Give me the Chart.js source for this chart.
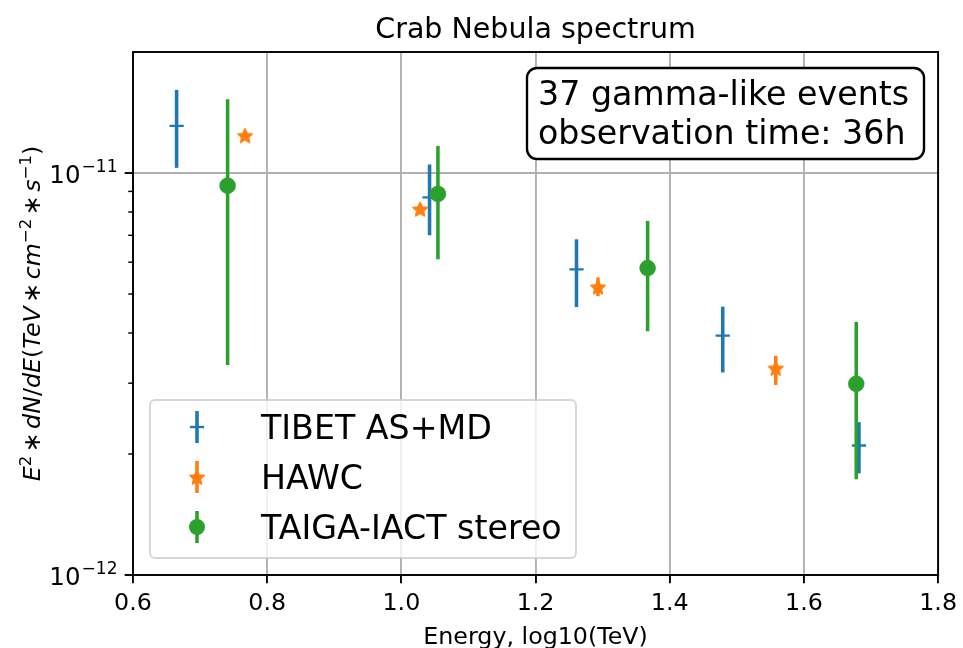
<!DOCTYPE html>
<html>
<head>
<meta charset="utf-8">
<script src="https://cdn.jsdelivr.net/npm/chart.js@4/dist/chart.umd.min.js"></script>
<style>
  html, body { margin: 0; padding: 0; background: #fff; }
  #wrap { width: 963px; height: 648px; }
</style>
</head>
<body>
<div id="wrap"><canvas id="spectrum" width="963" height="648"></canvas></div>
<script>
// ---------------------------------------------------------------------------
// DATA
// ---------------------------------------------------------------------------

const TIBET_X = [0.665, 1.042, 1.261, 1.479, 1.682]
const TIBET_Y = [1.31e-11, 8.7e-12, 5.76e-12, 3.94e-12, 2.10e-12]
const TIBET_LO = [1.03e-11, 7.0e-12, 4.64e-12, 3.19e-12, 1.79e-12]
const TIBET_HI = [1.61e-11, 1.05e-11, 6.84e-12, 4.65e-12, 2.40e-12]

const HAWC_X = [0.767, 1.028, 1.293, 1.558]
const HAWC_Y = [1.24e-11, 8.14e-12, 5.21e-12, 3.27e-12]
const HAWC_LO = [1.21e-11, 7.95e-12, 4.94e-12, 2.97e-12]
const HAWC_HI = [1.27e-11, 8.35e-12, 5.50e-12, 3.51e-12]

const TAIGA_X = [0.741, 1.0545, 1.367, 1.678]
const TAIGA_Y = [9.30e-12, 8.87e-12, 5.80e-12, 2.99e-12]
const TAIGA_LO = [3.33e-12, 6.10e-12, 4.04e-12, 1.73e-12]
const TAIGA_HI = [1.525e-11, 1.167e-11, 7.60e-12, 4.26e-12]

const SERIES_LABELS = ['TIBET AS+MD', 'HAWC', 'TAIGA-IACT stereo']
const SERIES_COLORS = ['#1f77b4', '#ff7f0e', '#2ca02c']

const X_MIN = 0.6
const X_MAX = 1.8
const X_STEP = 0.2
const Y_MIN = 1e-12
const Y_MAX = 2e-11
const Y_MAJOR = [1e-12, 1e-11]
const Y_MAJOR_EXP = ['\u221212', '\u221211']
const Y_MINOR = [2e-12, 3e-12, 4e-12, 5e-12, 6e-12, 7e-12, 8e-12, 9e-12]

const TITLE = 'Crab Nebula spectrum'
const X_TITLE = 'Energy, log10(TeV)'
const NOTE_LINES = ['37 gamma-like events', 'observation time: 36h']

// ---------------------------------------------------------------------------
// STYLE
// ---------------------------------------------------------------------------

const FONT = "'DejaVu Sans', sans-serif"
const PT = 2.375 // px per point in the reference
const GRID = '#b0b0b0'

function toPoints(xs, ys) {
    return xs.map((x, i) => ({ x, y: ys[i] }))
}

function makeStar(color, r) {
    const size = Math.ceil(r * 2 + 4)
    const c = document.createElement('canvas')
    c.width = c.height = size
    const g = c.getContext('2d')
    g.translate(size / 2, size / 2 + 0.8)
    g.beginPath()
    for (let k = 0; k < 10; k++) {
        const rr = k % 2 ? r * 0.48 : r
        const a = -Math.PI / 2 + k * Math.PI / 5
        g.lineTo(rr * Math.cos(a), rr * Math.sin(a))
    }
    g.closePath()
    g.fillStyle = color
    g.fill()
    g.lineJoin = 'round'
    g.lineWidth = 1.2
    g.strokeStyle = color
    g.stroke()
    return c
}

const STAR = makeStar(SERIES_COLORS[1], 7.8)

// ---------------------------------------------------------------------------
// PLUGINS
// ---------------------------------------------------------------------------

// vertical error bars, drawn just before each dataset's markers
const errorBars = {
    id: 'errorBars',
    beforeDatasetDraw(chart, args) {
        const ds = chart.data.datasets[args.index]
        if (!ds.errLo) return
        const { x, y } = chart.scales
        const ctx = chart.ctx
        ctx.save()
        ctx.strokeStyle = ds.borderColor
        ctx.lineWidth = 1.5 * PT
        ctx.lineCap = 'butt'
        ds.data.forEach((p, i) => {
            const px = x.getPixelForValue(p.x)
            ctx.beginPath()
            ctx.moveTo(px, y.getPixelForValue(ds.errLo[i]))
            ctx.lineTo(px, y.getPixelForValue(ds.errHi[i]))
            ctx.stroke()
        })
        ctx.restore()
    },
}

function roundRect(ctx, x, y, w, h, r) {
    ctx.beginPath()
    ctx.moveTo(x + r, y)
    ctx.arcTo(x + w, y, x + w, y + h, r)
    ctx.arcTo(x + w, y + h, x, y + h, r)
    ctx.arcTo(x, y + h, x, y, r)
    ctx.arcTo(x, y, x + w, y, r)
    ctx.closePath()
}

function drawMarker(ctx, kind, color, cx, cy) {
    ctx.save()
    ctx.strokeStyle = color
    ctx.fillStyle = color
    // errorbar stub
    ctx.lineWidth = 1.5 * PT
    ctx.beginPath()
    ctx.moveTo(cx, cy - 16)
    ctx.lineTo(cx, cy + 16)
    ctx.stroke()
    if (kind === 'cross') {
        ctx.lineWidth = PT
        ctx.beginPath()
        ctx.moveTo(cx - 7.1, cy)
        ctx.lineTo(cx + 7.1, cy)
        ctx.stroke()
    } else if (kind === 'star') {
        ctx.drawImage(STAR, cx - STAR.width / 2, cy - STAR.height / 2)
    } else {
        ctx.beginPath()
        ctx.arc(cx, cy, 8, 0, Math.PI * 2)
        ctx.fill()
    }
    ctx.restore()
}

// frame, log ticks, y label, title, annotation box and legend
const decor = {
    id: 'decor',
    afterDraw(chart) {
        const ctx = chart.ctx
        const area = chart.chartArea
        const yScale = chart.scales.y
        ctx.save()

        // frame
        ctx.strokeStyle = '#000'
        ctx.lineWidth = 0.8 * PT
        ctx.strokeRect(area.left, area.top, area.right - area.left, area.bottom - area.top)

        // y ticks
        ctx.lineWidth = 0.8 * PT
        Y_MAJOR.forEach(v => {
            const py = yScale.getPixelForValue(v)
            ctx.beginPath()
            ctx.moveTo(area.left, py)
            ctx.lineTo(area.left - 3.5 * PT, py)
            ctx.stroke()
        })
        ctx.lineWidth = 0.6 * PT
        Y_MINOR.forEach(v => {
            const py = yScale.getPixelForValue(v)
            ctx.beginPath()
            ctx.moveTo(area.left, py)
            ctx.lineTo(area.left - 2 * PT, py)
            ctx.stroke()
        })

        // y tick labels 10^n
        ctx.fillStyle = '#000'
        ctx.textBaseline = 'alphabetic'
        ctx.textAlign = 'left'
        const tickFont = 10.3 * PT
        const supFont = 7.2 * PT
        Y_MAJOR.forEach((v, i) => {
            const py = yScale.getPixelForValue(v)
            ctx.font = `${supFont}px ${FONT}`
            const wSup = ctx.measureText(Y_MAJOR_EXP[i]).width
            ctx.font = `${tickFont}px ${FONT}`
            const wBase = ctx.measureText('10').width
            const right = area.left - 6.5 * PT
            const x0 = right - wSup - wBase - 1
            ctx.fillText('10', x0, py + 9.8)
            ctx.font = `${supFont}px ${FONT}`
            ctx.fillText(Y_MAJOR_EXP[i], x0 + wBase + 1, py - 1)
        })

        // y label (mathtext-like)
        const segs = [
            { t: 'E', it: true }, { t: '2', sup: true }, { t: '\u2217', op: true },
            { t: 'dN', it: true }, { t: '/' }, { t: 'dE', it: true }, { t: '(' },
            { t: 'TeV', it: true }, { t: '\u2217', op: true }, { t: 'cm', it: true },
            { t: '\u22122', sup: true }, { t: '\u2217', op: true }, { t: 's', it: true },
            { t: '\u22121', sup: true }, { t: ')' },
        ]
        const lblSize = 10 * PT
        const fontOf = s => s.sup ? `${lblSize * 0.7}px ${FONT}`
            : s.it ? `oblique ${lblSize}px ${FONT}` : `${lblSize}px ${FONT}`
        const gap = 3.5
        let total = 0
        segs.forEach(s => {
            ctx.font = fontOf(s)
            s.w = ctx.measureText(s.t).width + (s.op ? gap * 2 : 0)
            total += s.w
        })
        ctx.save()
        ctx.translate(40, (area.top + area.bottom) / 2)
        ctx.rotate(-Math.PI / 2)
        let cx = -total / 2
        segs.forEach(s => {
            ctx.font = fontOf(s)
            const dy = s.sup ? -9.5 : 0
            ctx.fillText(s.t, cx + (s.op ? gap : 0), dy)
            cx += s.w
        })
        ctx.restore()

        // x title
        ctx.font = `${10 * PT}px ${FONT}`
        ctx.textAlign = 'center'
        ctx.fillText(X_TITLE, (area.left + area.right) / 2, 644)

        // title
        ctx.font = `${12 * PT}px ${FONT}`
        ctx.fillText(TITLE, (area.left + area.right) / 2, 38)

        // annotation box
        ctx.fillStyle = '#fff'
        roundRect(ctx, 527, 68, 397, 91, 10)
        ctx.fill()
        ctx.lineWidth = PT
        ctx.strokeStyle = '#000'
        ctx.stroke()
        ctx.fillStyle = '#000'
        ctx.textAlign = 'left'
        ctx.font = `${14 * PT}px ${FONT}`
        ctx.fillText(NOTE_LINES[0], 538, 105)
        ctx.fillText(NOTE_LINES[1], 538, 143.5)

        // legend
        roundRect(ctx, 150, 400, 426, 158, 5)
        ctx.fillStyle = 'rgba(255,255,255,0.8)'
        ctx.fill()
        ctx.lineWidth = 0.8 * PT
        ctx.strokeStyle = 'rgba(204,204,204,0.8)'
        ctx.stroke()
        const kinds = ['cross', 'star', 'circle']
        SERIES_LABELS.forEach((label, i) => {
            const cy = 427 + i * 50
            drawMarker(ctx, kinds[i], SERIES_COLORS[i], 197, cy)
            ctx.fillStyle = '#000'
            ctx.font = `${14 * PT}px ${FONT}`
            ctx.fillText(label, 261, cy + 12)
        })

        ctx.restore()
    },
}

// ---------------------------------------------------------------------------
// CHART
// ---------------------------------------------------------------------------

const datasets = [
    {
        label: SERIES_LABELS[0],
        data: toPoints(TIBET_X, TIBET_Y),
        errLo: TIBET_LO, errHi: TIBET_HI,
        borderColor: SERIES_COLORS[0], backgroundColor: SERIES_COLORS[0],
        pointStyle: 'cross', pointRadius: 7.1, borderWidth: PT,
        order: 3,
    },
    {
        label: SERIES_LABELS[1],
        data: toPoints(HAWC_X, HAWC_Y),
        errLo: HAWC_LO, errHi: HAWC_HI,
        borderColor: SERIES_COLORS[1], backgroundColor: SERIES_COLORS[1],
        pointStyle: STAR, pointRadius: 8,
        order: 2,
    },
    {
        label: SERIES_LABELS[2],
        data: toPoints(TAIGA_X, TAIGA_Y),
        errLo: TAIGA_LO, errHi: TAIGA_HI,
        borderColor: SERIES_COLORS[2], backgroundColor: SERIES_COLORS[2],
        pointStyle: 'circle', pointRadius: 8, borderWidth: 0.5,
        order: 1,
    },
]

new Chart(document.getElementById('spectrum'), {
    type: 'scatter',
    data: { datasets },
    options: {
        responsive: false,
        animation: false,
        events: [],
        layout: { padding: { top: 52, right: 24, left: 0, bottom: 0 } },
        plugins: { legend: { display: false }, tooltip: { enabled: false }, title: { display: false } },
        scales: {
            x: {
                type: 'linear', min: X_MIN, max: X_MAX,
                afterFit(scale) { scale.height = 73 },
                ticks: {
                    stepSize: X_STEP,
                    color: '#000',
                    padding: 6,
                    font: { family: FONT, size: 10 * PT },
                    callback: v => v.toFixed(1),
                },
                grid: {
                    color: GRID, lineWidth: 0.8 * PT,
                    tickColor: '#000', tickLength: 3.5 * PT, tickWidth: 0.8 * PT,
                },
                border: { display: false },
            },
            y: {
                type: 'logarithmic', min: Y_MIN, max: Y_MAX,
                afterFit(scale) { scale.width = 133 },
                afterBuildTicks(scale) { scale.ticks = Y_MAJOR.map(v => ({ value: v })) },
                ticks: { display: false },
                grid: { color: GRID, lineWidth: 0.8 * PT, drawTicks: false },
                border: { display: false },
            },
        },
    },
    plugins: [errorBars, decor],
})
</script>
</body>
</html>
